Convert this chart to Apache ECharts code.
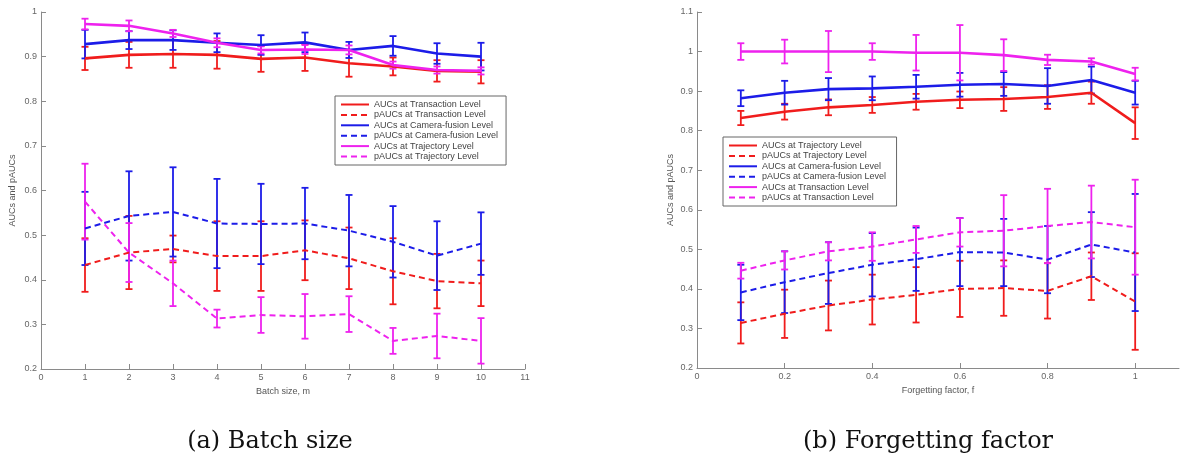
<!DOCTYPE html>
<html>
<head>
<meta charset="utf-8">
<script src="https://cdn.jsdelivr.net/npm/echarts@6/dist/echarts.min.js"></script>
<style>
  html, body { margin: 0; padding: 0; background: #fff; }
  #chart { width: 1184px; height: 462px; }
</style>
</head>
<body>
<div id="chart"></div>
<script>
// ---------- (a) Batch size ----------
const batchSizes = [1, 2, 3, 4, 5, 6, 7, 8, 9, 10];
const aBatchTicksX = [0, 1, 2, 3, 4, 5, 6, 7, 8, 9, 10, 11];
const aucTransA      = [0.896, 0.904, 0.906, 0.904, 0.895, 0.898, 0.885, 0.878, 0.868, 0.866];
const aucTransAErr   = [0.026, 0.029, 0.031, 0.031, 0.029, 0.030, 0.030, 0.020, 0.024, 0.026];
const paucTransA     = [0.433, 0.461, 0.469, 0.453, 0.453, 0.466, 0.448, 0.419, 0.397, 0.392];
const paucTransAErr  = [0.060, 0.082, 0.030, 0.078, 0.078, 0.067, 0.069, 0.074, 0.061, 0.051];
const aucCamA        = [0.928, 0.937, 0.937, 0.931, 0.926, 0.932, 0.915, 0.924, 0.907, 0.900];
const aucCamAErr     = [0.032, 0.020, 0.022, 0.021, 0.022, 0.022, 0.018, 0.022, 0.023, 0.031];
const paucCamA       = [0.515, 0.543, 0.552, 0.526, 0.525, 0.526, 0.510, 0.485, 0.454, 0.481];
const paucCamAErr    = [0.082, 0.100, 0.100, 0.100, 0.090, 0.080, 0.080, 0.080, 0.077, 0.070];
const aucTrajA       = [0.973, 0.969, 0.952, 0.931, 0.915, 0.916, 0.915, 0.881, 0.870, 0.868];
const aucTrajAErr    = [0.012, 0.012, 0.008, 0.010, 0.008, 0.010, 0.010, 0.008, 0.008, 0.008];
const paucTrajA      = [0.575, 0.461, 0.392, 0.313, 0.321, 0.318, 0.323, 0.263, 0.274, 0.263];
const paucTrajAErr   = [0.085, 0.066, 0.051, 0.020, 0.040, 0.050, 0.040, 0.029, 0.050, 0.051];

// ---------- (b) Forgetting factor ----------
const forgetFactors = [0.1, 0.2, 0.3, 0.4, 0.5, 0.6, 0.7, 0.8, 0.9, 1.0];
const bForgetTicksX = [0, 0.2, 0.4, 0.6, 0.8, 1];
const aucTrajB       = [0.832, 0.848, 0.859, 0.865, 0.873, 0.878, 0.880, 0.885, 0.896, 0.819];
const aucTrajBErr    = [0.018, 0.020, 0.020, 0.020, 0.020, 0.021, 0.030, 0.030, 0.028, 0.040];
const paucTrajB      = [0.314, 0.337, 0.358, 0.373, 0.385, 0.400, 0.402, 0.395, 0.432, 0.368];
const paucTrajBErr   = [0.052, 0.061, 0.063, 0.063, 0.070, 0.071, 0.070, 0.070, 0.060, 0.122];
const aucCamB        = [0.882, 0.896, 0.905, 0.907, 0.911, 0.916, 0.918, 0.913, 0.928, 0.896];
const aucCamBErr     = [0.020, 0.030, 0.028, 0.030, 0.030, 0.030, 0.030, 0.045, 0.034, 0.030];
const paucCamB       = [0.391, 0.417, 0.440, 0.461, 0.475, 0.493, 0.492, 0.474, 0.512, 0.492];
const paucCamBErr    = [0.070, 0.078, 0.078, 0.080, 0.080, 0.086, 0.085, 0.085, 0.082, 0.148];
const aucTransB      = [1.000, 1.000, 1.000, 1.000, 0.997, 0.997, 0.991, 0.979, 0.975, 0.943];
const aucTransBErr   = [0.021, 0.030, 0.052, 0.021, 0.045, 0.070, 0.040, 0.013, 0.008, 0.016];
const paucTransB     = [0.446, 0.472, 0.495, 0.507, 0.525, 0.543, 0.547, 0.559, 0.569, 0.556];
const paucTransBErr  = [0.020, 0.023, 0.023, 0.036, 0.034, 0.036, 0.090, 0.094, 0.092, 0.120];

const RED = '#f01c1c', BLUE = '#1c1ce8', MAG = '#ee22ee';

function renderErr(params, api) {
  const x = api.value(0), lo = api.value(1), hi = api.value(2);
  const p1 = api.coord([x, hi]), p2 = api.coord([x, lo]);
  const w = 3.5;
  const style = { stroke: api.visual('color'), lineWidth: 1.8 };
  return {
    type: 'group',
    children: [
      { type: 'line', shape: { x1: p1[0], y1: p1[1], x2: p2[0], y2: p2[1] }, style: style },
      { type: 'line', shape: { x1: p1[0] - w, y1: p1[1], x2: p1[0] + w, y2: p1[1] }, style: style },
      { type: 'line', shape: { x1: p2[0] - w, y1: p2[1], x2: p2[0] + w, y2: p2[1] }, style: style }
    ]
  };
}

function makeSeries(name, xs, vals, errs, color, dashed, gi) {
  return [
    {
      name: name, type: 'line', xAxisIndex: gi, yAxisIndex: gi,
      data: xs.map((x, i) => [x, vals[i]]),
      symbol: 'none', smooth: false,
      lineStyle: { color: color, width: dashed ? 2 : 2.6, type: dashed ? [6, 4] : 'solid' },
      itemStyle: { color: color },
      z: 3
    },
    {
      type: 'custom', xAxisIndex: gi, yAxisIndex: gi,
      renderItem: renderErr,
      itemStyle: { color: color },
      data: xs.map((x, i) => [x, vals[i] - errs[i], vals[i] + errs[i]]),
      z: 3
    }
  ];
}

const axisCommon = {
  axisLine: { show: true, onZero: false, lineStyle: { color: '#8a8a8a', width: 1 } },
  axisTick: { show: true, inside: true, length: 5, lineStyle: { color: '#8a8a8a' } },
  axisLabel: { color: '#666', fontSize: 9, fontFamily: 'Liberation Sans, Arial', margin: 4 },
  splitLine: { show: false },
  nameTextStyle: { color: '#555', fontSize: 9, fontFamily: 'Liberation Sans, Arial' }
};

const namesA = ['AUCs at Transaction Level', 'pAUCs at Transaction Level',
  'AUCs at Camera-fusion Level', 'pAUCs at Camera-fusion Level',
  'AUCs at Trajectory Level', 'pAUCs at Trajectory Level'];
const namesB = ['AUCs at Trajectory Level ', 'pAUCs at Trajectory Level ',
  'AUCs at Camera-fusion Level ', 'pAUCs at Camera-fusion Level ',
  'AUCs at Transaction Level ', 'pAUCs at Transaction Level '];

const series = [].concat(
  makeSeries(namesA[0], batchSizes, aucTransA, aucTransAErr, RED, false, 0),
  makeSeries(namesA[1], batchSizes, paucTransA, paucTransAErr, RED, true, 0),
  makeSeries(namesA[2], batchSizes, aucCamA, aucCamAErr, BLUE, false, 0),
  makeSeries(namesA[3], batchSizes, paucCamA, paucCamAErr, BLUE, true, 0),
  makeSeries(namesA[4], batchSizes, aucTrajA, aucTrajAErr, MAG, false, 0),
  makeSeries(namesA[5], batchSizes, paucTrajA, paucTrajAErr, MAG, true, 0),
  makeSeries(namesB[0], forgetFactors, aucTrajB, aucTrajBErr, RED, false, 1),
  makeSeries(namesB[1], forgetFactors, paucTrajB, paucTrajBErr, RED, true, 1),
  makeSeries(namesB[2], forgetFactors, aucCamB, aucCamBErr, BLUE, false, 1),
  makeSeries(namesB[3], forgetFactors, paucCamB, paucCamBErr, BLUE, true, 1),
  makeSeries(namesB[4], forgetFactors, aucTransB, aucTransBErr, MAG, false, 1),
  makeSeries(namesB[5], forgetFactors, paucTransB, paucTransBErr, MAG, true, 1)
);

const legendCommon = {
  orient: 'vertical',
  borderColor: '#666', borderWidth: 1,
  backgroundColor: '#fff',
  padding: [4, 8, 4, 5],
  itemGap: 1.4, itemWidth: 28, itemHeight: 11,
  selectedMode: false,
  itemStyle: { color: 'rgba(0,0,0,0)', borderColor: 'rgba(0,0,0,0)', borderWidth: 0, opacity: 0 },
  textStyle: { fontSize: 9, color: '#444', fontFamily: 'Liberation Sans, Arial' },
  z: 10
};

const option = {
  animation: false,
  backgroundColor: '#fff',
  grid: [
    { left: 41, top: 12, width: 484, height: 357 },
    { left: 697, top: 12, width: 482, height: 356 }
  ],
  xAxis: [
    Object.assign({}, axisCommon, {
      type: 'value', gridIndex: 0, min: 0, max: 11, interval: 1,
      name: 'Batch size, m', nameLocation: 'middle', nameGap: 15,
      axisLabel: Object.assign({}, axisCommon.axisLabel, { customValues: aBatchTicksX }),
      axisTick: Object.assign({}, axisCommon.axisTick, { customValues: aBatchTicksX })
    }),
    Object.assign({}, axisCommon, {
      type: 'value', gridIndex: 1, min: 0, max: 1.1, interval: 0.2,
      name: 'Forgetting factor, f', nameLocation: 'middle', nameGap: 15,
      axisLabel: Object.assign({}, axisCommon.axisLabel, { customValues: bForgetTicksX }),
      axisTick: Object.assign({}, axisCommon.axisTick, { customValues: bForgetTicksX })
    })
  ],
  yAxis: [
    Object.assign({}, axisCommon, {
      type: 'value', gridIndex: 0, min: 0.2, max: 1, interval: 0.1,
      name: 'AUCs and pAUCs', nameLocation: 'middle', nameGap: 24
    }),
    Object.assign({}, axisCommon, {
      type: 'value', gridIndex: 1, min: 0.2, max: 1.1, interval: 0.1,
      name: 'AUCs and pAUCs', nameLocation: 'middle', nameGap: 22
    })
  ],
  legend: [
    Object.assign({}, legendCommon, { left: 335, top: 96, data: namesA }),
    Object.assign({}, legendCommon, { left: 723, top: 137, data: namesB })
  ],
  graphic: [
    { type: 'text', x: 270, y: 442, style: { text: '(a) Batch size', fontSize: 24, fontFamily: 'DejaVu Serif', fill: '#111', align: 'center', verticalAlign: 'middle' } },
    { type: 'text', x: 928, y: 442, style: { text: '(b) Forgetting factor', fontSize: 24, fontFamily: 'DejaVu Serif', fill: '#111', align: 'center', verticalAlign: 'middle' } }
  ],
  series: series
};

const chart = echarts.init(document.getElementById('chart'), null, { renderer: 'canvas' });
chart.setOption(option);
</script>
</body>
</html>
